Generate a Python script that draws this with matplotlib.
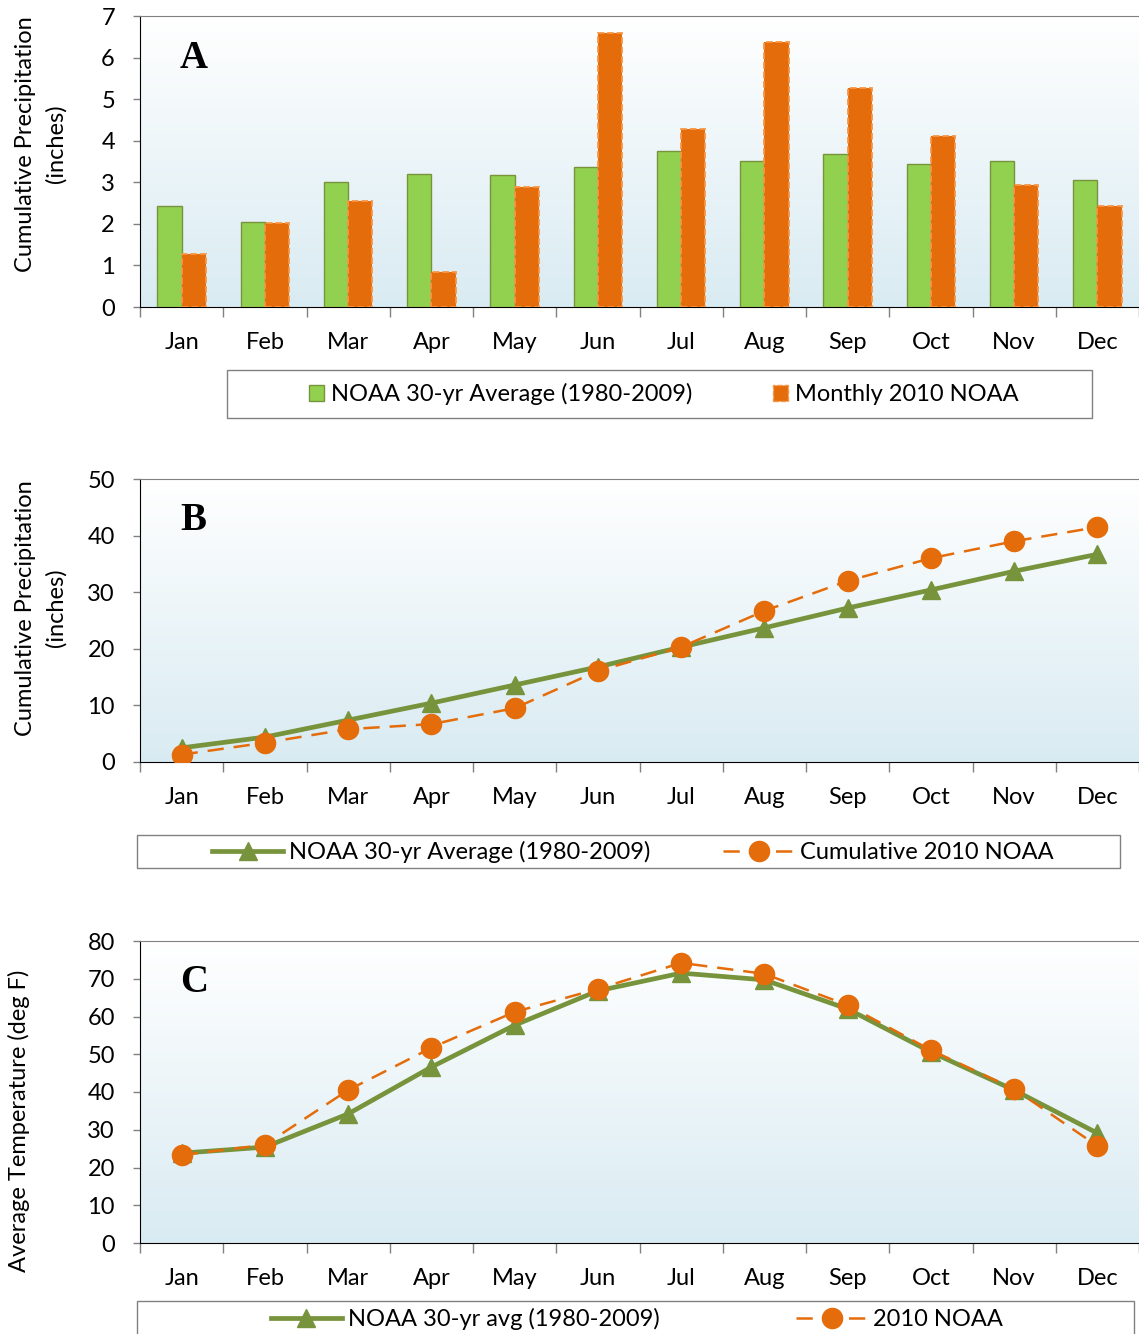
import matplotlib
matplotlib.use("Agg")
import matplotlib.pyplot as plt
import numpy as np
from matplotlib.patches import Rectangle, Patch
from matplotlib.lines import Line2D

months = ["Jan", "Feb", "Mar", "Apr", "May", "Jun", "Jul", "Aug", "Sep", "Oct", "Nov", "Dec"]

# Panel A: monthly precipitation (inches)
precip_avg = [2.43, 2.05, 3.00, 3.20, 3.17, 3.36, 3.76, 3.51, 3.69, 3.43, 3.51, 3.05]
precip_2010 = [1.27, 2.03, 2.55, 0.84, 2.88, 6.58, 4.29, 6.37, 5.27, 4.12, 2.93, 2.43]

# Panel B: cumulative precipitation (inches)
cum_avg = [2.5, 4.4, 7.4, 10.4, 13.6, 16.8, 20.3, 23.7, 27.2, 30.4, 33.7, 36.7]
cum_2010 = [1.3, 3.4, 5.8, 6.7, 9.5, 16.1, 20.3, 26.7, 32.0, 36.0, 39.0, 41.5]

# Panel C: average temperature (deg F)
temp_avg = [23.8, 25.4, 34.2, 46.6, 57.7, 66.8, 71.5, 69.7, 62.0, 50.6, 40.5, 29.1]
temp_2010 = [23.3, 26.0, 40.5, 51.7, 61.2, 67.3, 74.2, 71.3, 63.0, 51.1, 40.8, 25.7]

FONT = ["Lato", "DejaVu Sans"]
plt.rcParams["font.family"] = FONT

W, H = 1139, 1334
fig = plt.figure(figsize=(W / 100, H / 100), dpi=100)

GREEN_BAR = "#92d050"
GREEN_EDGE = "#77933c"
ORANGE = "#e46c0a"
ORANGE_EDGE = "#f79646"
GREEN_LINE = "#77933c"
FS = 17
DASH = (0, (6.5, 4))
LW_G, MS_G = 3.4, 12.5
LW_O, MS_O = 1.8, 14.5


def fig_axes(top, bottom):
    left, right = 140, 1139
    return fig.add_axes([left / W, 1 - bottom / H, (right - left) / W, (bottom - top) / H])


def style(ax, ymax, ystep, letter, ylabel, lab_x, lab_y):
    ax.set_xlim(-0.5, 11.5)
    ax.set_ylim(0, ymax)
    ax.set_yticks(np.arange(0, ymax + 0.01, ystep))
    ax.set_xticks(range(12))
    ax.set_xticklabels(months)
    ax.set_xticks(np.arange(-0.5, 12, 1), minor=True)
    ax.tick_params(axis="x", which="major", length=0, pad=18, labelsize=FS)
    ax.tick_params(axis="x", which="minor", length=7, width=1, color="#808080", direction="out")
    ax.tick_params(axis="y", length=5, width=1, color="#808080", direction="out", pad=13, labelsize=FS)
    ax.spines["left"].set_color("black")
    ax.spines["bottom"].set_color("black")
    ax.spines["top"].set_color("#808080")
    ax.spines["right"].set_visible(False)
    grad = np.linspace(0, 1, 256).reshape(-1, 1)
    top_c = np.array([1.0, 1.0, 1.0])
    bot_c = np.array([0xd9, 0xeb, 0xf2]) / 255.0
    img = top_c[None, None, :] * (1 - grad[:, :, None]) + bot_c[None, None, :] * grad[:, :, None]
    ax.imshow(img, extent=[0, 1, 0, 1], transform=ax.transAxes, aspect="auto", zorder=0)
    ax.text(0.04, 0.82 if letter != "C" else 0.83, letter, transform=ax.transAxes,
            fontfamily="Liberation Serif", fontweight="bold", fontsize=28, va="baseline", ha="left")
    ax.set_ylabel(ylabel, fontsize=17, linespacing=1.55)
    ax.yaxis.set_label_coords(lab_x, lab_y)


def frame(x0, y0, x1, y1):
    fig.add_artist(Rectangle((x0 / W, 1 - y1 / H), (x1 - x0) / W, (y1 - y0) / H,
                             transform=fig.transFigure, facecolor="white",
                             edgecolor="#808080", lw=1.0, zorder=1))


x = np.arange(12)

# ---- Panel A ----
axA = fig_axes(16, 307)
style(axA, 7, 1, "A", "Cumulative Precipitation\n(inches)", -0.073, 0.56)
bw = 0.29
axA.bar(x - bw / 2, precip_avg, width=bw, color=GREEN_BAR, edgecolor=GREEN_EDGE, lw=1, zorder=3)
axA.bar(x + bw / 2, precip_2010, width=bw, color=ORANGE, edgecolor=ORANGE_EDGE, lw=1.3,
        linestyle="--", zorder=3)
frame(227, 370, 1092, 418)
hA = [Patch(facecolor=GREEN_BAR, edgecolor=GREEN_EDGE), Patch(facecolor=ORANGE, edgecolor=ORANGE_EDGE, linestyle="--")]
legA = fig.legend(hA, ["NOAA 30-yr Average (1980-2009)", "Monthly 2010 NOAA"], loc="center",
                  bbox_to_anchor=(664 / W, 1 - 394 / H), ncol=2, frameon=False, fontsize=FS,
                  handlelength=0.65, handleheight=0.65, handletextpad=0.3, columnspacing=3.4)
legA.set_zorder(5)

# ---- Panel B ----
axB = fig_axes(479, 762)
style(axB, 50, 10, "B", "Cumulative Precipitation\n(inches)", -0.073, 0.545)
axB.plot(x, cum_avg, color=GREEN_LINE, lw=LW_G, marker="^", ms=MS_G, zorder=3)
axB.plot(x, cum_2010, color=ORANGE, lw=LW_O, ls=DASH, marker="o", ms=MS_O, zorder=4)
frame(137, 835, 1120, 868)
hB = [Line2D([], [], color=GREEN_LINE, lw=LW_G, marker="^", ms=MS_G),
      Line2D([], [], color=ORANGE, lw=LW_O, ls=DASH, marker="o", ms=MS_O)]
legB = fig.legend(hB, ["NOAA 30-yr Average (1980-2009)", "Cumulative 2010 NOAA"], loc="center",
                  bbox_to_anchor=(633 / W, 1 - 852 / H), ncol=2, frameon=False, fontsize=FS,
                  handlelength=3.0, handletextpad=0.25, columnspacing=3.1)
legB.set_zorder(5)

# ---- Panel C ----
axC = fig_axes(941, 1243)
style(axC, 80, 10, "C", "Average Temperature (deg F)", -0.11, 0.405)
axC.plot(x, temp_avg, color=GREEN_LINE, lw=LW_G, marker="^", ms=MS_G, zorder=3)
axC.plot(x, temp_2010, color=ORANGE, lw=LW_O, ls=DASH, marker="o", ms=MS_O, zorder=4)
frame(137, 1301, 1134, 1345)
hC = [Line2D([], [], color=GREEN_LINE, lw=LW_G, marker="^", ms=MS_G),
      Line2D([], [], color=ORANGE, lw=LW_O, ls=DASH, marker="o", ms=MS_O)]
legC = fig.legend(hC, ["NOAA 30-yr avg (1980-2009)", "2010 NOAA"], loc="center",
                  bbox_to_anchor=(637 / W, 1 - 1319 / H), ncol=2, frameon=False, fontsize=FS,
                  handlelength=3.0, handletextpad=0.25, columnspacing=5.8)
legC.set_zorder(5)

fig.savefig("out.png", dpi=100)
